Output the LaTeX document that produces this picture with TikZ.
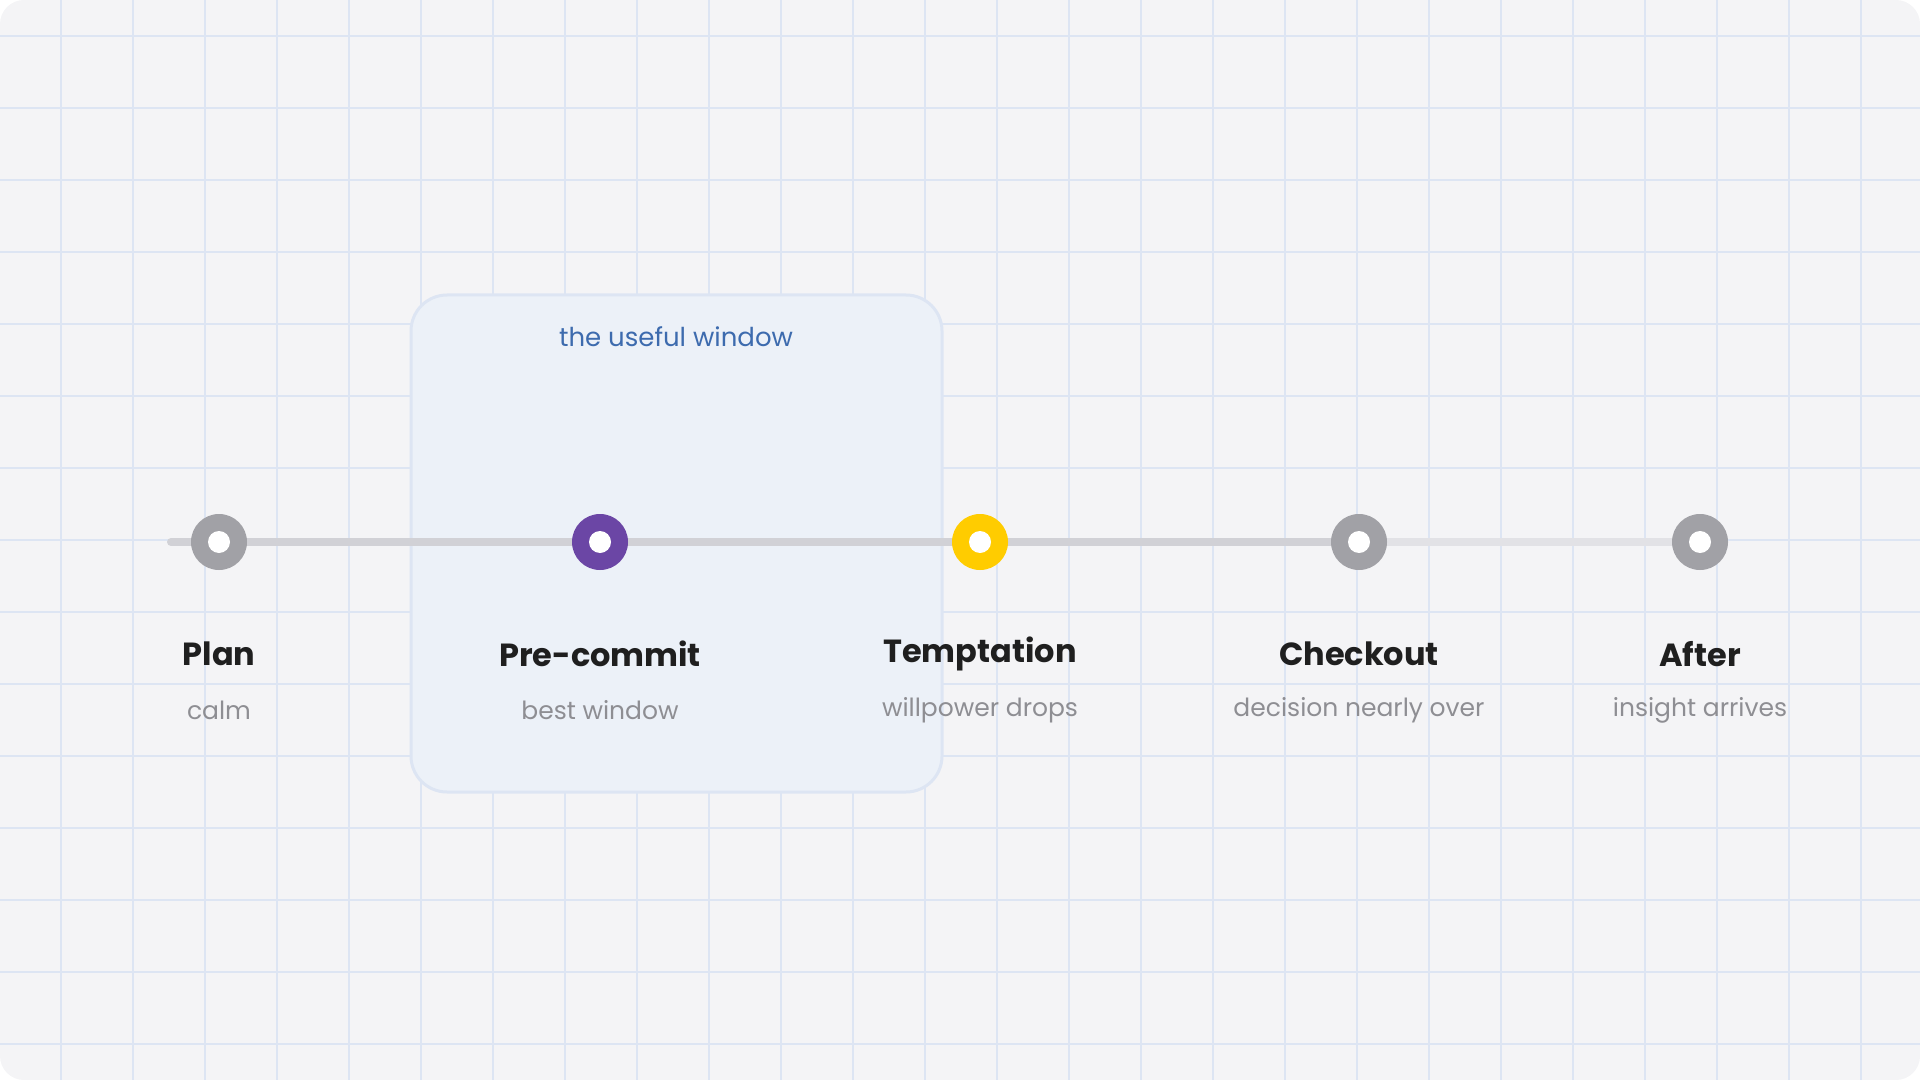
\documentclass[tikz,border=0pt]{standalone}
\usepackage{fontspec}
\setmainfont{Poppins}
\begin{document}
\begin{tikzpicture}[x=0.5pt,y=-0.5pt,
  dot/.style={circle,minimum size=28pt,inner sep=0pt,draw=none},
  title/.style={font=\fontsize{16}{18}\selectfont\bfseries,text=black!88},
  sub/.style={font=\fontsize{12.5}{14}\selectfont,text=subc},
  track/.style={line width=4pt,line cap=round}]
\definecolor{bg}{HTML}{F4F4F6}
\definecolor{gridc}{HTML}{DDE5F3}
\definecolor{boxf}{HTML}{ECF1F8}
\definecolor{trk}{HTML}{D1D1D6}
\definecolor{trk2}{HTML}{E2E2E6}
\definecolor{gry}{HTML}{A1A1A6}
\definecolor{pur}{HTML}{6B46A5}
\definecolor{yel}{HTML}{FFCC00}
\definecolor{win}{HTML}{3D6BAE}
\definecolor{subc}{HTML}{8E8E93}
\useasboundingbox (0,0) rectangle (1920,1080);
\fill[bg,rounded corners=12pt] (0,0) rectangle (1920,1080);
\begin{scope}
\clip[rounded corners=12pt] (0,0) rectangle (1920,1080);
\foreach \i in {0,...,25} \draw[gridc,line width=1pt] (61+72*\i,0) -- (61+72*\i,1080);
\foreach \j in {0,...,14} \draw[gridc,line width=1pt] (0,36+72*\j) -- (1920,36+72*\j);
\end{scope}
\node[draw=gridc,line width=1.5pt,fill=boxf,rounded corners=18pt,minimum width=265.5pt,minimum height=248.5pt,inner sep=0pt] (box) at (676.5,543.5) {};
\node[font=\fontsize{13}{15}\selectfont,text=win] (wl) at (676,337) {the useful window};
\coordinate (s) at (171,542);
\coordinate (p0) at (219,542);
\coordinate (c0) at (600,542);
\coordinate (t0) at (980,542);
\coordinate (k0) at (1359,542);
\coordinate (a0) at (1700,542);
\draw[track,trk] (s) -- (p0) -- (c0) -- (t0) -- (k0);
\draw[track,trk2] (k0) -- (a0);
\node[dot,fill=gry] (p) at (p0) {};
\node[dot,fill=pur] (c) at (c0) {};
\node[dot,fill=yel] (t) at (t0) {};
\node[dot,fill=gry] (k) at (k0) {};
\node[dot,fill=gry] (a) at (a0) {};
\foreach \n in {p,c,t,k,a} \fill[white] (\n) circle (5.5pt);
\node[title] (pl) at (219,654) {Plan};
\node[title] (cl) at (600,654) {Pre-commit};
\node[title] (tl) at (980,654) {Temptation};
\node[title] (kl) at (1359,654) {Checkout};
\node[title] (al) at (1700,654) {After};
\node[sub] (ps) at (219,710) {calm};
\node[sub] (cs) at (600,710) {best window};
\node[sub] (ts) at (980,710) {willpower drops};
\node[sub] (ks) at (1359,710) {decision nearly over};
\node[sub] (as) at (1700,710) {insight arrives};
\end{tikzpicture}
\end{document}
